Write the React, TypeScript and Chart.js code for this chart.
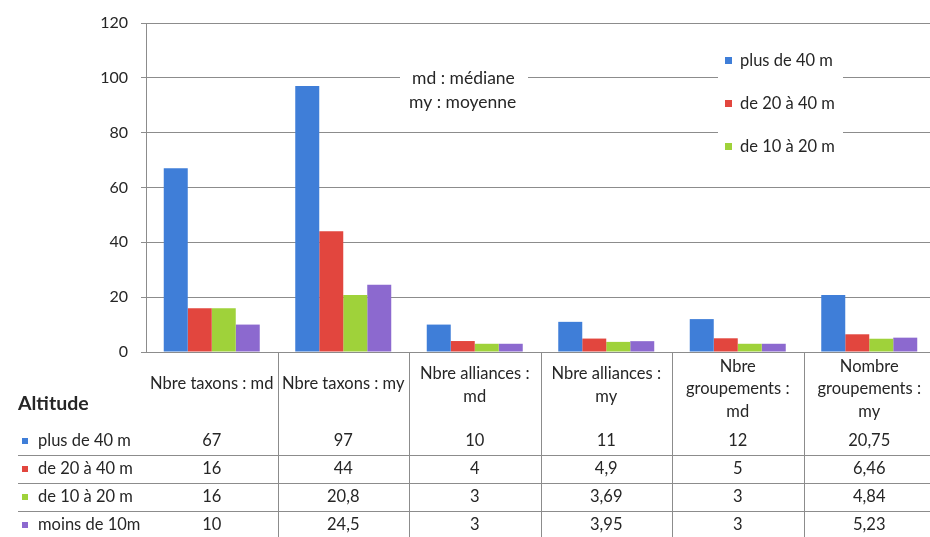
import { useEffect, useRef } from "react";
import { Chart, registerables } from "chart.js";

Chart.register(...registerables);

// Column headers (each entry is one wrapped header, one string per line)
const categories: string[][] = [
  ["Nbre taxons : md"],
  ["Nbre taxons : my"],
  ["Nbre alliances :", "md"],
  ["Nbre alliances :", "my"],
  ["Nbre", "groupements :", "md"],
  ["Nombre", "groupements :", "my"],
];

const seriesNames = ["plus de 40 m", "de 20 à 40 m", "de 10 à 20 m", "moins de 10m"];
const seriesColors = ["#3f7ed8", "#e2463e", "#9fd23a", "#8c69cf"];

const plus40 = [67, 97, 10, 11, 12, 20.75];
const de20a40 = [16, 44, 4, 4.9, 5, 6.46];
const de10a20 = [16, 20.8, 3, 3.69, 3, 4.84];
const moins10 = [10, 24.5, 3, 3.95, 3, 5.23];

const seriesValues = [plus40, de20a40, de10a20, moins10];

const yTicks = [0, 20, 40, 60, 80, 100, 120];
const noteLines = ["md : médiane", "my : moyenne"];
const tableTitle = "Altitude";

const FONT = "Lato, 'Liberation Sans', sans-serif";
const TEXT = "#262626";
const LINE = "#8c8c8c";

const fmt = (v: number) => String(v).replace(".", ",");

const tablePlugin = {
  id: "dataTable",
  afterDraw(chart: any) {
    const ctx = chart.ctx as CanvasRenderingContext2D;
    const area = chart.chartArea;
    const xs = chart.scales.x;
    const n = categories.length;
    const colW = (area.right - area.left) / n;
    const H = chart.height;

    ctx.save();

    // Vertical column separators below the axis
    ctx.strokeStyle = LINE;
    ctx.lineWidth = 1;
    for (let i = 1; i < n; i++) {
      const x = Math.round(area.left + colW * i) + 0.5;
      ctx.beginPath();
      ctx.moveTo(x, area.bottom);
      ctx.lineTo(x, H);
      ctx.stroke();
    }

    // Row separators
    const rowTops = [427, 455, 483, 511];
    const rowCenters = [441, 469, 497, 525];
    for (let r = 1; r < rowTops.length; r++) {
      const y = rowTops[r] + 0.5;
      ctx.beginPath();
      ctx.moveTo(18, y);
      ctx.lineTo(chart.width, y);
      ctx.stroke();
    }

    // Header labels
    ctx.fillStyle = TEXT;
    ctx.font = `16.5px ${FONT}`;
    ctx.textAlign = "center";
    ctx.textBaseline = "middle";
    const lh = 22.5;
    categories.forEach((lines, i) => {
      const cx = xs.getPixelForValue(i);
      const mid = lines.length === 1 ? 384 : lines.length === 2 ? 385 : 389;
      const y0 = mid - ((lines.length - 1) * lh) / 2;
      lines.forEach((t, k) => ctx.fillText(t, cx, y0 + k * lh));
    });

    // Values
    seriesValues.forEach((vals, r) => {
      vals.forEach((v, i) => {
        ctx.fillText(fmt(v), xs.getPixelForValue(i), rowCenters[r]);
      });
    });

    // Row titles
    ctx.textAlign = "left";
    ctx.font = `bold 19.5px ${FONT}`;
    ctx.fillText(tableTitle, 18, 404);
    ctx.font = `16.5px ${FONT}`;
    seriesNames.forEach((name, r) => {
      ctx.fillStyle = seriesColors[r];
      ctx.fillRect(22, rowCenters[r] - 3, 6, 6);
      ctx.fillStyle = TEXT;
      ctx.fillText(name, 38, rowCenters[r]);
    });

    // Note box
    ctx.fillStyle = "#ffffff";
    ctx.fillRect(400, 64, 128, 50);
    ctx.fillStyle = TEXT;
    ctx.textAlign = "left";
    ctx.font = `17.5px ${FONT}`;
    ctx.fillText(noteLines[0], 412, 78);
    ctx.fillText(noteLines[1], 409, 102);

    // Legend box
    ctx.fillStyle = "#ffffff";
    ctx.fillRect(718, 42, 125, 128);
    ctx.font = `16.5px ${FONT}`;
    [0, 1, 2].forEach((k) => {
      const y = 61 + k * 43;
      ctx.fillStyle = seriesColors[k];
      ctx.fillRect(725, y - 4, 7, 7);
      ctx.fillStyle = TEXT;
      ctx.fillText(seriesNames[k], 740, y);
    });

    ctx.restore();
  },
};

export default function App() {
  const ref = useRef<HTMLCanvasElement>(null);

  useEffect(() => {
    const canvas = ref.current;
    if (!canvas) return;
    const chart = new Chart(canvas, {
      type: "bar",
      data: {
        labels: categories.map((c) => c.join(" ")),
        datasets: seriesValues.map((vals, i) => ({
          label: seriesNames[i],
          data: vals,
          backgroundColor: seriesColors[i],
          borderWidth: 0,
          categoryPercentage: 0.73,
          barPercentage: 1,
        })),
      },
      options: {
        responsive: false,
        animation: false,
        devicePixelRatio: 1,
        layout: { padding: { left: 0, top: 23, right: 5, bottom: 185 } },
        plugins: {
          legend: { display: false },
          tooltip: { enabled: false },
          title: { display: false },
        },
        scales: {
          x: { display: false },
          y: {
            min: 0,
            max: 120,
            afterFit: (s: any) => {
              s.width = 146;
            },
            afterBuildTicks: (s: any) => {
              s.ticks = yTicks.map((v) => ({ value: v }));
            },
            ticks: {
              padding: 13,
              color: TEXT,
              font: { family: FONT, size: 16 },
            },
            grid: {
              color: LINE,
              lineWidth: 1,
              tickLength: 5,
              drawTicks: true,
            },
            border: { color: LINE, width: 1 },
          },
        },
      },
      plugins: [tablePlugin],
    });
    return () => chart.destroy();
  }, []);

  return (
    <div
      style={{
        position: "fixed",
        left: 0,
        top: 0,
        width: 930,
        height: 537,
        overflow: "hidden",
        background: "#ffffff",
      }}
    >
      <canvas ref={ref} width={940} height={537} style={{ display: "block" }} />
    </div>
  );
}
